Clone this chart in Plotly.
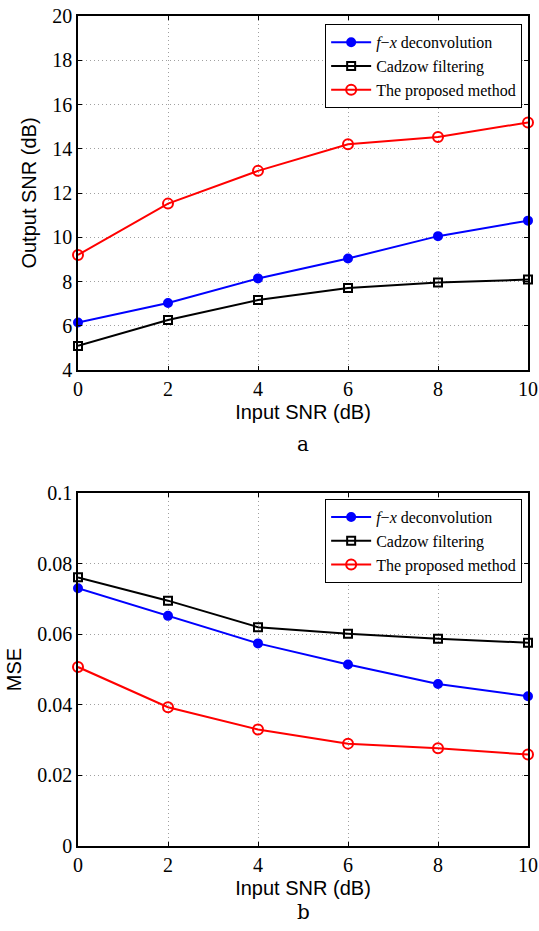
import plotly.graph_objects as go
from plotly.subplots import make_subplots

input_snr = [0, 2, 4, 6, 8, 10]

# Panel a: Output SNR (dB)
snr_fx = [6.15, 7.03, 8.14, 9.04, 10.05, 10.75]
snr_cadzow = [5.09, 6.26, 7.16, 7.71, 7.95, 8.09]
snr_proposed = [9.2, 11.52, 13.0, 14.2, 14.53, 15.19]

# Panel b: MSE
mse_fx = [0.0730, 0.0652, 0.0574, 0.0514, 0.0459, 0.0424]
mse_cadzow = [0.0761, 0.0695, 0.0620, 0.0601, 0.0587, 0.0576]
mse_proposed = [0.0507, 0.0393, 0.0330, 0.0290, 0.0277, 0.0259]

names = ["<i>f</i>\u2212<i>x</i> deconvolution", "Cadzow filtering", "The proposed method"]
colors = ["#0000ff", "#000000", "#ff0000"]
symbols = ["circle", "square-open", "circle-open"]
msizes = [8, 8, 10]

fig = make_subplots(rows=2, cols=1, vertical_spacing=0.0)

for row, series, leg in [(1, [snr_fx, snr_cadzow, snr_proposed], "legend"),
                         (2, [mse_fx, mse_cadzow, mse_proposed], "legend2")]:
    for ys, nm, c, s, ms in zip(series, names, colors, symbols, msizes):
        fig.add_trace(go.Scatter(
            x=input_snr, y=ys, name=nm, mode="lines+markers",
            line=dict(color=c, width=2),
            marker=dict(symbol=s, size=ms, color=c, line=dict(color=c, width=2)),
            legend=leg, cliponaxis=False), row=row, col=1)

tickfont = dict(family="Liberation Serif, Times New Roman, serif", size=20, color="#000")
titlefont = dict(family="Liberation Sans, Arial, sans-serif", size=20, color="#000")

axis_common = dict(showline=True, linecolor="#000", linewidth=1.5, mirror="ticks",
                   ticks="inside", ticklen=4, tickcolor="#000",
                   showgrid=True, gridcolor="#a0a0a0", griddash="1px,3px", gridwidth=1,
                   zeroline=False, tickfont=tickfont, automargin=False)

fig.update_xaxes(**axis_common, range=[0, 10], tickvals=input_snr, ticktext=[str(v) for v in input_snr])
fig.update_xaxes(domain=[0, 1])
fig.update_yaxes(**axis_common)

fig.update_yaxes(row=1, col=1, range=[4, 20], tickvals=[4, 6, 8, 10, 12, 14, 16, 18, 20],
                 domain=[0.5735, 1.0],
                 title=dict(text="Output SNR (dB)", font=titlefont, standoff=10))
fig.update_yaxes(row=2, col=1, range=[0, 0.1], tickvals=[0, 0.02, 0.04, 0.06, 0.08, 0.1],
                 ticktext=["0", "0.02", "0.04", "0.06", "0.08", "0.1"],
                 domain=[0.0, 0.4253],
                 title=dict(text="MSE", font=titlefont, standoff=10))
fig.update_xaxes(row=1, col=1, title=dict(text="Input SNR (dB)", font=titlefont, standoff=6))
fig.update_xaxes(row=2, col=1, title=dict(text="Input SNR (dB)", font=titlefont, standoff=6))

legend_style = dict(bgcolor="#ffffff", bordercolor="#000", borderwidth=1,
                    font=dict(family="Liberation Serif, Times New Roman, serif", size=16, color="#000"),
                    xanchor="right", yanchor="top", tracegroupgap=0, itemwidth=40)

fig.update_layout(
    width=539, height=931,
    margin=dict(l=78, r=11, t=16, b=85, autoexpand=False),
    plot_bgcolor="#ffffff", paper_bgcolor="#ffffff",
    showlegend=True,
    legend=dict(**legend_style, x=0.987, y=0.990),
    legend2=dict(**legend_style, x=0.987, y=0.418),
    annotations=[
        dict(text="a", xref="paper", yref="paper", x=0.5, y=0.484, showarrow=False,
             font=dict(family="DejaVu Serif, serif", size=20, color="#000"), yanchor="middle"),
        dict(text="b", xref="paper", yref="paper", x=0.5, y=-0.0795, showarrow=False,
             font=dict(family="DejaVu Serif, serif", size=20, color="#000"), yanchor="middle"),
    ],
)

fig.write_html("out.html", config={"displayModeBar": False},
               post_script="document.body.style.margin='0';document.body.style.overflow='hidden';")
